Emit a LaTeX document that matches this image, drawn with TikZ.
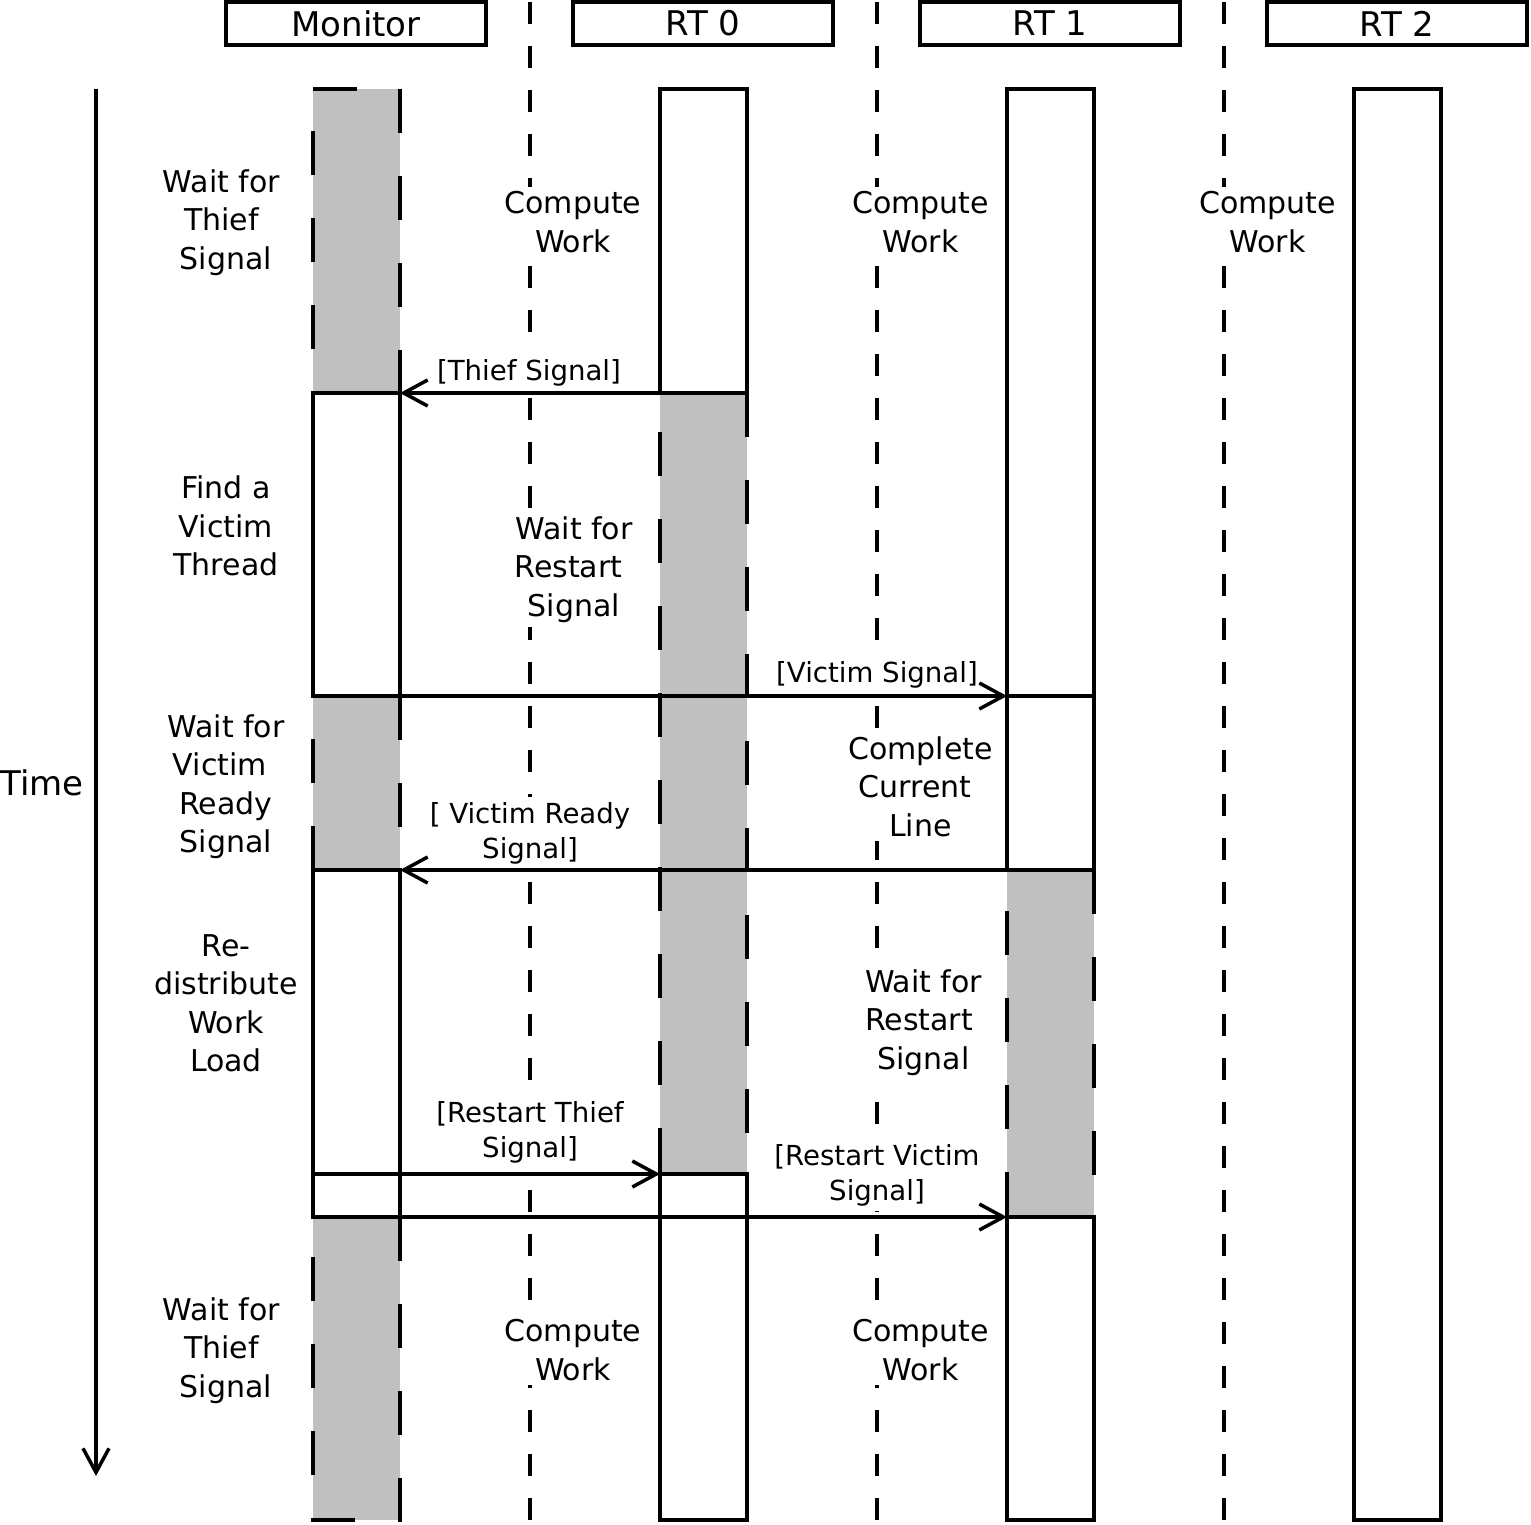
\documentclass[tikz,border=0pt]{standalone}
\usepackage{fontspec}
\setmainfont{DejaVu Sans}
\usetikzlibrary{arrows.meta}
\definecolor{waitgray}{RGB}{192,192,192}
\begin{document}
\begin{tikzpicture}[x=1pt,y=-1pt,
  sepline/.style={line width=3.5pt, dash pattern=on 22pt off 22pt},
  waitbox/.style={fill=waitgray, draw, line width=3.5pt, dash pattern=on 44pt off 43pt},
  workbox/.style={fill=white, draw, line width=3.5pt},
  hdr/.style={draw, line width=3.5pt, minimum width=260pt, minimum height=43pt, inner sep=0pt, font=\fontsize{34}{40}\selectfont},
  lbl/.style={align=center, fill=white, inner sep=4pt, font=\fontsize{30}{38.5}\selectfont},
  msglbl/.style={align=center, fill=white, inner sep=5pt, font=\fontsize{27.6}{35}\selectfont},
  msg/.style={line width=3.5pt, -{Straight Barb[length=24pt,width=26pt]}}
]
\useasboundingbox (0,0) rectangle (1531,1524);

% separators
\coordinate (s1a) at (530,2); \coordinate (s1b) at (530,1524);
\coordinate (s2a) at (877,2); \coordinate (s2b) at (877,1524);
\coordinate (s3a) at (1224,2); \coordinate (s3b) at (1224,1524);
\draw[sepline] (s1a) -- (s1b);
\draw[sepline] (s2a) -- (s2b);
\draw[sepline] (s3a) -- (s3b);

% headers
\node[hdr] (hmon) at (356,23.5) {Monitor};
\node[hdr] (hrt0) at (703,23.5) {RT 0};
\node[hdr] (hrt1) at (1050,23.5) {RT 1};
\node[hdr] (hrt2) at (1397,23.5) {RT 2};

% time axis
\node[font=\fontsize{34}{40}\selectfont, inner sep=0pt] (time) at (42,783) {Time};
\coordinate (t0) at (96,89);
\coordinate (t1) at (96,1476);
\draw[msg] (t0) -- (t1);

% monitor lifeline
\draw[waitbox] (313,89) -- (400,89) -- (400,393) -- (313,393) -- cycle;
\draw[waitbox] (313,696) -- (400,696) -- (400,870) -- (313,870) -- cycle;
\draw[waitbox] (313,1217) -- (400,1217) -- (400,1520) -- (313,1520) -- cycle;
\draw[workbox] (313,393) rectangle (400,696);
\draw[workbox] (313,870) rectangle (400,1217);

% RT0 lifeline
\draw[waitbox] (660,393) -- (747,393) -- (747,1174) -- (660,1174) -- cycle;
\draw[workbox] (660,89) rectangle (747,393);
\draw[workbox] (660,1174) rectangle (747,1520);

% RT1 lifeline
\draw[waitbox] (1007,870) -- (1094,870) -- (1094,1217) -- (1007,1217) -- cycle;
\draw[workbox] (1007,89) rectangle (1094,696);
\draw[workbox] (1007,696) rectangle (1094,870);
\draw[workbox] (1007,1217) rectangle (1094,1520);

% RT2 lifeline
\draw[workbox] (1354,89) rectangle (1441,1520);

% activity labels
\node[lbl] (m1) at (226,222.5) {Wait for\kern9pt\\Thief\kern9pt\\Signal};
\node[lbl] (m2) at (226,526) {Find a\\Victim\\Thread};
\node[lbl] (m3) at (226,786.5) {Wait for\\Victim\kern12pt\\Ready\\Signal};
\node[lbl] (m4) at (226,1003.5) {Re-\\distribute\\Work\\Load};
\node[lbl] (m5) at (226,1350.5) {Wait for\kern9pt\\Thief\kern9pt\\Signal};

\node[lbl] (r01) at (573,222) {Compute\\Work};
\node[lbl] (r02) at (574,569.5) {Wait for\\Restart\kern11pt\\Signal};
\node[lbl] (r03) at (573,1350) {Compute\\Work};

\node[lbl] (r11) at (920.5,222) {Compute\\Work};
\node[lbl] (r12) at (920.5,786.5) {Complete\\Current\kern11pt\\Line};
\node[lbl] (r13) at (923.5,1022.5) {Wait for\\Restart\kern9pt\\Signal};
\node[lbl] (r14) at (920.5,1350) {Compute\\Work};

\node[lbl] (r21) at (1267.5,222) {Compute\\Work};

% message labels (under the arrows)
\node[msglbl, inner ysep=9pt] (lts) at (529,373) {[Thief Signal]};
\node[msglbl] (lvs) at (877,675) {[Victim Signal]};
\node[msglbl] (lvr) at (530,833) {[ Victim Ready\\Signal]};
\node[msglbl] (lrt) at (530,1132.5) {[Restart Thief\\Signal]};
\node[msglbl] (lrv) at (877,1175.5) {[Restart Victim\\Signal]};

% messages
\coordinate (ts0) at (747,393);  \coordinate (ts1) at (400,393);
\coordinate (vs0) at (313,696);  \coordinate (vs1) at (1007,696);
\coordinate (vr0) at (1094,870); \coordinate (vr1) at (400,870);
\coordinate (rt0) at (313,1174); \coordinate (rt1) at (660,1174);
\coordinate (rv0) at (313,1217); \coordinate (rv1) at (1007,1217);
\draw[msg] (ts0) -- (ts1);
\draw[msg] (vs0) -- (vs1);
\draw[msg] (vr0) -- (vr1);
\draw[msg] (rt0) -- (rt1);
\draw[msg] (rv0) -- (rv1);
\end{tikzpicture}
\end{document}
